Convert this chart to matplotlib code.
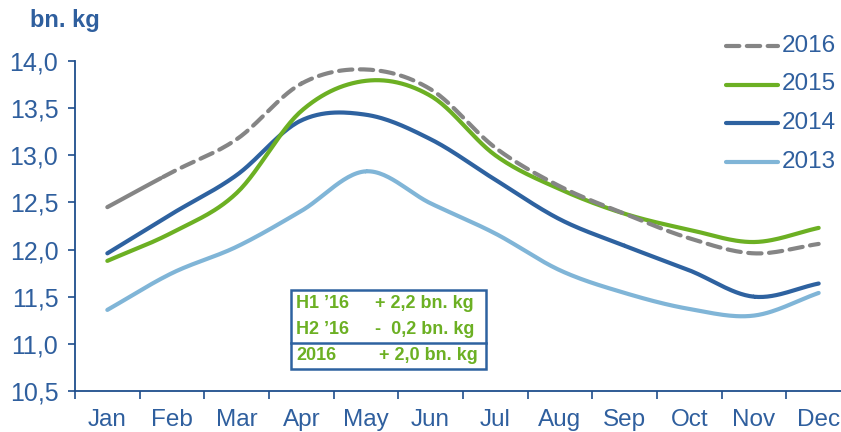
import numpy as np
import matplotlib
matplotlib.use("Agg")
import matplotlib.pyplot as plt
from matplotlib.patches import Rectangle
from matplotlib.lines import Line2D

months = ["Jan", "Feb", "Mar", "Apr", "May", "Jun",
          "Jul", "Aug", "Sep", "Oct", "Nov", "Dec"]
y2016 = [12.45, 12.82, 13.17, 13.76, 13.91, 13.70, 13.08, 12.67, 12.38, 12.12, 11.96, 12.06]
y2015 = [11.88, 12.18, 12.60, 13.47, 13.79, 13.63, 13.00, 12.64, 12.38, 12.21, 12.08, 12.23]
y2014 = [11.96, 12.38, 12.79, 13.37, 13.43, 13.17, 12.74, 12.32, 12.04, 11.78, 11.50, 11.64]
y2013 = [11.36, 11.75, 12.03, 12.41, 12.83, 12.49, 12.17, 11.78, 11.54, 11.37, 11.30, 11.54]
yticks = [10.5, 11.0, 11.5, 12.0, 12.5, 13.0, 13.5, 14.0]
box_lines = [("H1 \u201916", "+ 2,2 bn. kg"),
             ("H2 \u201916", "-  0,2 bn. kg"),
             ("2016", "+ 2,0 bn. kg")]

C_AXIS = "#1F4E8C"
C_TEXT = "#2F5F9E"
C_GREEN = "#6CB023"
C_BLUE = "#2E62A0"
C_LIGHT = "#80B5D7"
C_GRAY = "#858585"

plt.rcParams["font.family"] = ["Liberation Sans", "DejaVu Sans"]


def smooth(y, n=30):
    # Catmull-Rom style smoothing, similar to Excel's smoothed lines
    y = np.asarray(y, float)
    x = np.arange(len(y), dtype=float)
    px = np.concatenate([[2 * x[0] - x[1]], x, [2 * x[-1] - x[-2]]])
    py = np.concatenate([[2 * y[0] - y[1]], y, [2 * y[-1] - y[-2]]])
    xs, ys = [], []
    t = np.linspace(0, 1, n)
    for i in range(1, len(px) - 2):
        for arr, out in ((px, xs), (py, ys)):
            p0, p1, p2, p3 = arr[i - 1], arr[i], arr[i + 1], arr[i + 2]
            out.append(0.5 * ((2 * p1) + (-p0 + p2) * t
                              + (2 * p0 - 5 * p1 + 4 * p2 - p3) * t ** 2
                              + (-p0 + 3 * p1 - 3 * p2 + p3) * t ** 3))
    return np.concatenate(xs), np.concatenate(ys)


fig = plt.figure(figsize=(8.41, 4.32), dpi=100)
ax = fig.add_axes([75 / 841, 41 / 432, 776 / 841, 330 / 432])

lw = 3.0
x, y = smooth(y2013)
ax.plot(x, y, color=C_LIGHT, lw=lw, solid_capstyle="round")
x, y = smooth(y2014)
ax.plot(x, y, color=C_BLUE, lw=lw, solid_capstyle="round")
x, y = smooth(y2015)
ax.plot(x, y, color=C_GREEN, lw=lw, solid_capstyle="round")
x, y = smooth(y2016)
first = x <= 0.85
ax.plot(x[first], y[first], color=C_GRAY, lw=lw, solid_capstyle="round")
ax.plot(x[~first], y[~first], color=C_GRAY, lw=lw, dashes=(3.2, 1.8),
        dash_capstyle="round")

ax.set_xlim(-0.5, 11.5)
ax.set_ylim(10.5, 14.0)
ax.set_xticks(range(12))
ax.set_xticklabels(months)
ax.set_xticks(np.arange(-0.5, 12, 1), minor=True)
ax.tick_params(axis="x", which="major", length=0, pad=13, labelsize=17.5,
               labelcolor=C_TEXT)
ax.tick_params(axis="x", which="minor", length=6, width=1.2, color=C_AXIS,
               direction="out")
ax.set_yticks(yticks)
ax.set_yticklabels([f"{v:.1f}".replace(".", ",") for v in yticks])
ax.tick_params(axis="y", length=5, width=1.2, color=C_AXIS, pad=7,
               labelsize=18, labelcolor=C_TEXT)
for s in ("top", "right"):
    ax.spines[s].set_visible(False)
for s in ("left", "bottom"):
    ax.spines[s].set_color(C_AXIS)
    ax.spines[s].set_linewidth(1.3)

fig.text(30 / 841, 1 - 21 / 432, "bn. kg", fontsize=17, fontweight="bold",
         color=C_TEXT, va="center", ha="left")

# legend
leg = [("2016", C_GRAY, True), ("2015", C_GREEN, False),
       ("2014", C_BLUE, False), ("2013", C_LIGHT, False)]
for i, (lab, col, dashed) in enumerate(leg):
    yy = 1 - (46 + i * 38.5) / 432
    ln = Line2D([726 / 841, 778 / 841], [yy, yy], transform=fig.transFigure,
                color=col, lw=lw, solid_capstyle="round")
    if dashed:
        ln.set_dashes((3.2, 1.8))
        ln.set_dash_capstyle("round")
    fig.add_artist(ln)
    fig.text(782 / 841, yy, lab, fontsize=17.5, color=C_TEXT, va="center",
             ha="left")

# summary box
bx0, bx1 = 291 / 841, 486 / 841
by0, by1, bmid = 1 - 369 / 432, 1 - 290 / 432, 1 - 343 / 432
fig.add_artist(Rectangle((bx0, by0), bx1 - bx0, by1 - by0,
                         transform=fig.transFigure, fill=False,
                         edgecolor=C_BLUE, lw=1.8))
fig.add_artist(Line2D([bx0, bx1], [bmid, bmid], transform=fig.transFigure,
                      color=C_BLUE, lw=1.8))
rows = [304, 329, 356]
for (a, b), r in zip(box_lines, rows):
    yy = 1 - r / 432
    fig.text(296 / 841, yy, a, fontsize=13, fontweight="bold", color=C_GREEN,
             va="center", ha="left")
    fig.text(478 / 841 if a == "2016" else 474 / 841, yy, b, fontsize=13,
             fontweight="bold", color=C_GREEN, va="center", ha="right")

fig.savefig("out.png", dpi=100)
